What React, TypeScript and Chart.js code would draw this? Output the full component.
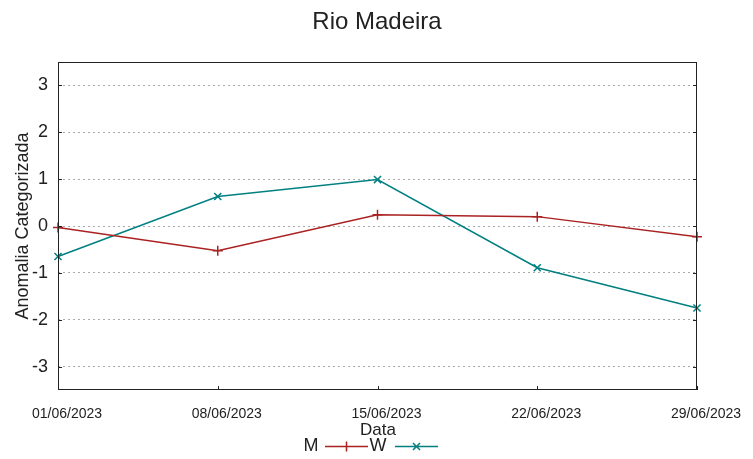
import React, { useEffect, useRef } from "react";
import { Chart, registerables } from "chart.js";

Chart.register(...registerables);

const TITLE = "Rio Madeira";
const X_TITLE = "Data";
const Y_TITLE = "Anomalia Categorizada";
const dates = ["01/06/2023", "08/06/2023", "15/06/2023", "22/06/2023", "29/06/2023"];
const seriesM = [-0.03, -0.53, 0.24, 0.2, -0.23];
const seriesW = [-0.65, 0.63, 0.99, -0.89, -1.75];
const yTicks = [-3, -2, -1, 0, 1, 2, 3];
const COLOR_M = "#aa2222";
const COLOR_W = "#008080";
const FONT = "'Liberation Sans', Arial, sans-serif";

const decorPlugin = {
  id: "decor",
  afterDatasetsDraw(chart: any) {
    const { ctx, chartArea } = chart;
    const { left, right, top, bottom } = chartArea;
    const yScale = chart.scales.y;
    const xScale = chart.scales.x;
    ctx.save();
    ctx.strokeStyle = "#222";
    ctx.lineWidth = 1;
    ctx.setLineDash([]);
    ctx.strokeRect(left + 0.5, top + 0.5, right - left - 1, bottom - top - 1);
    ctx.beginPath();
    yTicks.forEach((v) => {
      const y = Math.round(yScale.getPixelForValue(v)) + 0.5;
      ctx.moveTo(left, y);
      ctx.lineTo(left + 4, y);
      ctx.moveTo(right, y);
      ctx.lineTo(right - 4, y);
    });
    dates.forEach((_, i) => {
      const x = Math.round(xScale.getPixelForValue(i)) + 0.5;
      ctx.moveTo(x, bottom);
      ctx.lineTo(x, bottom - 4);
    });
    ctx.stroke();
    ctx.restore();
  },
  afterDraw(chart: any) {
    const { ctx } = chart;
    ctx.save();
    ctx.fillStyle = "#222";
    ctx.textAlign = "center";
    ctx.textBaseline = "middle";
    ctx.font = `24px ${FONT}`;
    ctx.fillText(TITLE, 377, 22);
    ctx.font = `17px ${FONT}`;
    ctx.fillText(X_TITLE, 378, 430);
    ctx.save();
    ctx.translate(23, 226);
    ctx.rotate(-Math.PI / 2);
    ctx.font = `18px ${FONT}`;
    ctx.fillText(Y_TITLE, 0, 0);
    ctx.restore();
    const ly = 446;
    const entries = [
      { label: "M", color: COLOR_M, rot: false, tx: 311, x0: 325, x1: 368 },
      { label: "W", color: COLOR_W, rot: true, tx: 378, x0: 395, x1: 438 },
    ];
    ctx.font = `18px ${FONT}`;
    entries.forEach((e) => {
      ctx.fillStyle = "#222";
      ctx.fillText(e.label, e.tx, ly);
      ctx.strokeStyle = e.color;
      ctx.lineWidth = 1.5;
      ctx.beginPath();
      ctx.moveTo(e.x0, ly + 0.5);
      ctx.lineTo(e.x1, ly + 0.5);
      const cx = (e.x0 + e.x1) / 2;
      const cy = ly + 0.5;
      const r = 5;
      if (e.rot) {
        const d = r * Math.SQRT1_2;
        ctx.moveTo(cx - d, cy - d);
        ctx.lineTo(cx + d, cy + d);
        ctx.moveTo(cx + d, cy - d);
        ctx.lineTo(cx - d, cy + d);
      } else {
        ctx.moveTo(cx, cy - r);
        ctx.lineTo(cx, cy + r);
      }
      ctx.stroke();
    });
    ctx.restore();
  },
};

export default function App() {
  const ref = useRef<HTMLCanvasElement | null>(null);
  useEffect(() => {
    if (!ref.current) return;
    const chart = new Chart(ref.current, {
      type: "line",
      data: {
        labels: dates,
        datasets: [
          {
            label: "M",
            data: seriesM,
            borderColor: COLOR_M,
            backgroundColor: COLOR_M,
            borderWidth: 1.5,
            pointStyle: "cross",
            pointRadius: 5,
            pointBorderWidth: 1.5,
            tension: 0,
          },
          {
            label: "W",
            data: seriesW,
            borderColor: COLOR_W,
            backgroundColor: COLOR_W,
            borderWidth: 1.5,
            pointStyle: "crossRot",
            pointRadius: 5,
            pointBorderWidth: 1.5,
            tension: 0,
          },
        ],
      },
      options: {
        animation: false,
        responsive: false,
        devicePixelRatio: 1,
        layout: { padding: { left: 0, right: 56, top: 62, bottom: 0 } },
        plugins: {
          legend: { display: false },
          title: { display: false },
          tooltip: { enabled: false },
        },
        scales: {
          x: {
            type: "category",
            offset: false,
            grid: { display: false, drawTicks: false },
            border: { display: false },
            ticks: {
              color: "#222",
              font: { family: FONT, size: 14 },
              padding: 16,
              labelOffset: 9,
              maxRotation: 0,
              autoSkip: false,
            },
            afterFit(scale: any) {
              scale.height = 69;
            },
          },
          y: {
            min: -3.5,
            max: 3.5,
            afterBuildTicks(scale: any) {
              scale.ticks = yTicks.map((v) => ({ value: v }));
            },
            grid: {
              color: "#aaaaaa",
              lineWidth: 1,
              drawTicks: false,
            },
            border: { display: false, dash: [2, 3] },
            ticks: {
              color: "#222",
              font: { family: FONT, size: 18 },
              padding: 10,
            },
            afterFit(scale: any) {
              scale.width = 58;
            },
          },
        },
      },
      plugins: [decorPlugin],
    } as any);
    return () => chart.destroy();
  }, []);
  return (
    <div style={{ position: "fixed", left: 0, top: 0, width: 753, height: 459, background: "#fff" }}>
      <canvas ref={ref} width={753} height={459} style={{ width: 753, height: 459, display: "block" }} />
    </div>
  );
}
